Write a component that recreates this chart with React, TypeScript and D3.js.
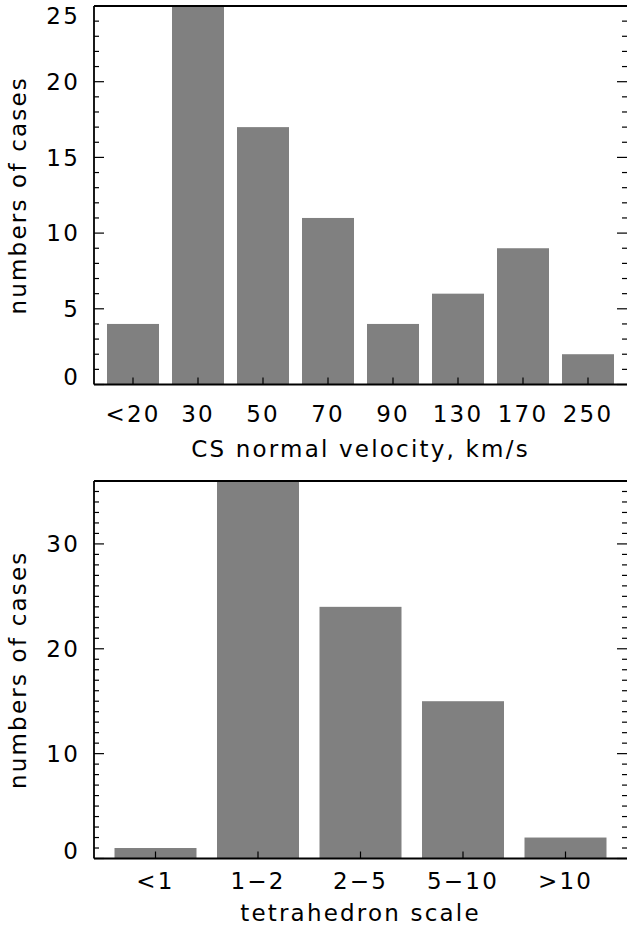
import React from "react";
import * as d3 from "d3";

const velCategories = ["<20", "30", "50", "70", "90", "130", "170", "250"];
const velCounts = [4, 25, 17, 11, 4, 6, 9, 2];
const velTicks = [0, 5, 10, 15, 20, 25];

const scaleCategories = ["<1", "1\u22122", "2\u22125", "5\u221210", ">10"];
const scaleCounts = [1, 36, 24, 15, 2];
const scaleTicks = [0, 10, 20, 30];

const FONT = "DejaVu Sans";
const FS = 23;
const LS = 2.2;

type PanelProps = {
  cats: string[];
  vals: number[];
  ticks: number[];
  ymax: number;
  top: number;
  bottom: number;
  xlabel: string;
  tickLabelDy: number;
  xlabelY: number;
};

function Panel({ cats, vals, ticks, ymax, top, bottom, xlabel, tickLabelDy, xlabelY }: PanelProps) {
  const left = 94;
  const right = 627;
  const x = d3.scaleLinear().domain([-0.6, cats.length - 0.4]).range([left, right]);
  const y = d3.scaleLinear().domain([0, ymax]).range([bottom, top]);
  const unit = x(1) - x(0);
  const bw = unit * 0.8;
  const minor = d3.range(0, ymax + 1, 1);
  const major = new Set(ticks);
  const labelY = (t: number) => {
    const p = y(t);
    return Math.min(Math.max(p, top + 10), bottom - 8);
  };
  return (
    <g>
      {vals.map((v, i) => (
        <rect key={i} x={x(i) - bw / 2} y={y(v)} width={bw} height={y(0) - y(v)} fill="#808080" />
      ))}
      {cats.map((c, i) => (
        <line key={"xt" + i} x1={x(i)} x2={x(i)} y1={bottom} y2={bottom - 7} stroke="#000" strokeWidth={1.2} />
      ))}
      {minor.map((t) => {
        const len = major.has(t) ? 10 : 5;
        return (
          <g key={"yt" + t}>
            <line x1={left} x2={left + len} y1={y(t)} y2={y(t)} stroke="#000" strokeWidth={1.2} />
            <line x1={right} x2={right - len} y1={y(t)} y2={y(t)} stroke="#000" strokeWidth={1.2} />
          </g>
        );
      })}
      <line x1={left} x2={right + 2} y1={top} y2={top} stroke="#000" strokeWidth={1.8} />
      <line x1={left} x2={right + 2} y1={bottom} y2={bottom} stroke="#000" strokeWidth={1.8} />
      <line x1={left} x2={left} y1={top} y2={bottom} stroke="#000" strokeWidth={1.8} />
      <line x1={right + 1} x2={right + 1} y1={top} y2={bottom} stroke="#000" strokeWidth={1.8} />
      {ticks.map((t) => (
        <text
          key={"yl" + t}
          x={80}
          y={labelY(t)}
          dy="0.36em"
          textAnchor="end"
          fontFamily={FONT}
          fontSize={FS}
          letterSpacing={LS}
          fill="#000"
        >
          {t}
        </text>
      ))}
      {cats.map((c, i) => (
        <text
          key={"xl" + i}
          x={x(i)}
          y={bottom + tickLabelDy}
          textAnchor="middle"
          fontFamily={FONT}
          fontSize={FS}
          letterSpacing={LS}
          fill="#000"
        >
          {c}
        </text>
      ))}
      <text
        x={(left + right) / 2}
        y={xlabelY}
        textAnchor="middle"
        fontFamily={FONT}
        fontSize={FS}
        letterSpacing={LS}
        fill="#000"
      >
        {xlabel}
      </text>
      <text
        transform={`translate(26,${(top + bottom) / 2}) rotate(-90)`}
        textAnchor="middle"
        fontFamily={FONT}
        fontSize={FS}
        letterSpacing={LS}
        fill="#000"
      >
        numbers of cases
      </text>
    </g>
  );
}

export default function App() {
  return (
    <svg
      width={627}
      height={938}
      style={{ position: "absolute", left: 0, top: 0, background: "#fff" }}
    >
      <rect width={627} height={938} fill="#fff" />
      <Panel
        cats={velCategories}
        vals={velCounts}
        ticks={velTicks}
        ymax={25}
        top={6}
        bottom={384.5}
        xlabel="CS normal velocity, km/s"
        tickLabelDy={37}
        xlabelY={457}
      />
      <Panel
        cats={scaleCategories}
        vals={scaleCounts}
        ticks={scaleTicks}
        ymax={36}
        top={481}
        bottom={858.5}
        xlabel="tetrahedron scale"
        tickLabelDy={30}
        xlabelY={921}
      />
    </svg>
  );
}
